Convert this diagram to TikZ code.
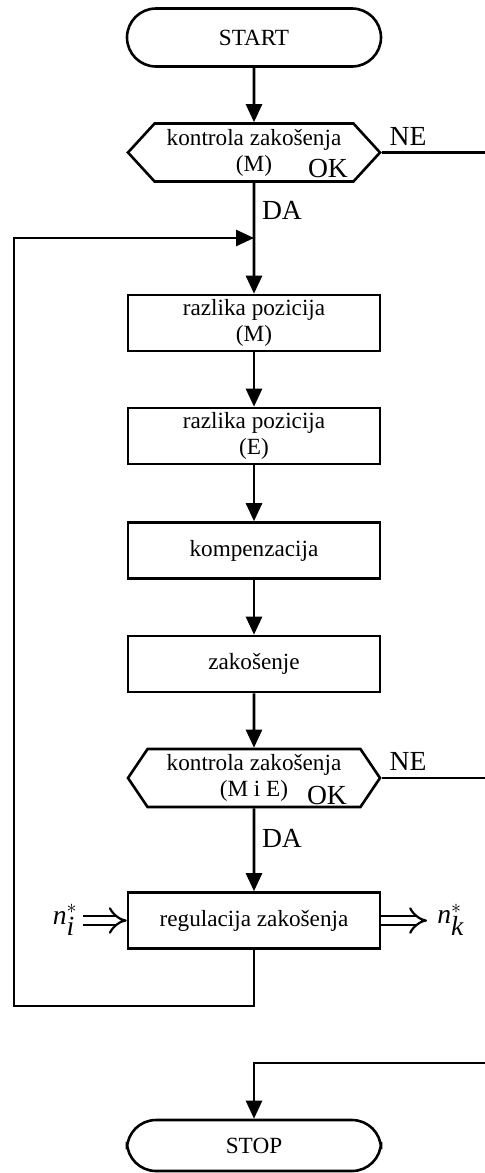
\documentclass[tikz,border=0pt]{standalone}
\usepackage{fontspec}
\setmainfont{Liberation Serif}
\usetikzlibrary{shapes.symbols, arrows.meta}

\begin{document}
\begin{tikzpicture}[x=0.5pt, y=-0.5pt, line width=1.3pt,
  every node/.style={font=\fontsize{11.6}{13}\selectfont},
  blok/.style={draw, rectangle, minimum width=126pt, minimum height=28pt, align=center, inner sep=0pt},
  kraj/.style={draw, rectangle, rounded corners=14.5pt, minimum width=127pt, minimum height=29pt, inner sep=0pt},
  odluka/.style={draw, signal, signal to=west and east, signal pointer angle=#1, minimum width=126pt, minimum height=29pt, align=center, inner sep=0pt},
  oznaka/.style={font=\fontsize{13.8}{15}\selectfont, inner sep=0pt},
  tok/.style={-{Triangle[length=9pt,width=8pt]}},
  dvojna/.style={double, double distance=3.5pt, line width=1.1pt, -{Implies}}]
  \useasboundingbox (0,0) rectangle (485,1173);
  % Glavni blokovi
  \node[kraj] (start) at (254,37.5) {START};
  \node[odluka=95] (kon1) at (254,152.5) {kontrola zakošenja\\(M)};
  \node[blok] (razM) at (254,323) {razlika pozicija\\(M)};
  \node[blok] (razE) at (254,436) {razlika pozicija\\(E)};
  \node[blok] (komp) at (254,550.5) {kompenzacija};
  \node[blok] (zak) at (254,664) {zakošenje};
  \node[odluka=112] (kon2) at (254,778) {kontrola zakošenja\\(M i E)};
  \node[blok] (reg) at (254,920.5) {regulacija zakošenja};
  \node[kraj, minimum height=25.5pt] (stop) at (254,1145.5) {STOP};
  % Oznake
  \node[oznaka] (ok1) at (328,168.5) {OK};
  \node[oznaka] (ok2) at (327,795.5) {OK};
  \node[oznaka] (ne1) at (408,136.5) {NE};
  \node[oznaka] (ne2) at (408,761.5) {NE};
  \node[oznaka] (da1) at (282,210) {DA};
  \node[oznaka] (da2) at (282,838) {DA};
  \node[oznaka, anchor=east] (ni) at (79,920) {$\textit{n}_{\textit{i}}^{*}$};
  \node[oznaka, anchor=west] (nk) at (436,920) {$\textit{n}_{\textit{k}}^{*}$};
  % Pomocne tocke
  \coordinate (spoj) at (254,238);
  \coordinate (petlja) at (14,1006);
  \coordinate (desno) at (488,1063);
  \coordinate (ulaz) at (83,920.5);
  \coordinate (izlaz) at (427,920.5);
  % Tok
  \draw[tok] (start) -- (kon1);
  \draw[tok] (kon1) -- (razM);
  \draw[tok] (razM) -- (razE);
  \draw[tok] (razE) -- (komp);
  \draw[tok] (komp) -- (zak);
  \draw[tok] (zak) -- (kon2);
  \draw[tok] (kon2) -- (reg);
  \draw[tok] (reg.south) |- (petlja) |- (spoj);
  \draw[tok] (kon1.east) -| (desno) -| (stop.north);
  \draw (kon2.east) -- (kon2.east -| desno);
  \draw[dvojna] (ulaz) -- (reg.west);
  \draw[dvojna] (reg.east) -- (izlaz);
\end{tikzpicture}
\end{document}
